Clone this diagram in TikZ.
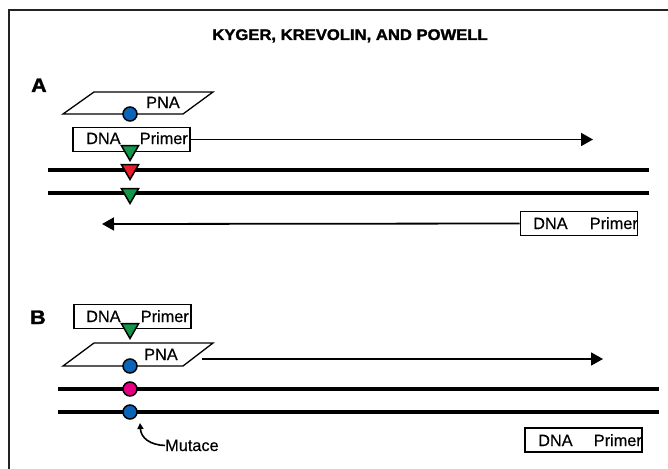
\documentclass[tikz,border=0pt]{standalone}
\usepackage{fontspec}
\setmainfont{Liberation Sans}[FakeBold=0.5]
\newfontfamily\headfont{Liberation Sans}[FakeBold=1.6]
\usetikzlibrary{arrows.meta,shapes.geometric}
\definecolor{mgreen}{RGB}{18,150,72}
\definecolor{mred}{RGB}{232,30,40}
\definecolor{mblue}{RGB}{10,100,184}
\definecolor{mpink}{RGB}{228,0,128}
\definecolor{inkgray}{RGB}{35,35,35}
\begin{document}
\begin{tikzpicture}[x=1pt,y=-1pt,
  frameline/.style={draw=inkgray,line width=2.2pt,line cap=rect},
  strand/.style={draw=black,line width=4.6pt},
  extend/.style={draw=black,line width=1.8pt,-{Triangle[length=12pt,width=13pt]}},
  primerbox/.style={draw=black,line width=1.7pt,fill=white,minimum width=117pt,minimum height=24pt,inner sep=0pt},
  pnabox/.style={draw=black,line width=1.3pt,fill=white},
  lbl/.style={font=\fontsize{16.3}{19}\selectfont,inner sep=0pt},
  panel/.style={font=\headfont\bfseries\fontsize{19.5}{22}\selectfont,inner sep=0pt},
  base/.style={draw=black,line width=1.5pt,circle,minimum size=14pt,inner sep=0pt},
  mism/.style={draw=black,line width=1.5pt,regular polygon,regular polygon sides=3,shape border rotate=180,minimum size=20pt,inner sep=0pt},
  mutarrow/.style={draw=black,line width=1.6pt,-{Triangle[length=6pt,width=6pt]}}
]
\useasboundingbox (0,0) rectangle (668,468);
\fill[white] (0,0) rectangle (668,468);

% open frame and running head
\draw[frameline] (9,468) -- (9,10) -- (668,10);
\node[inner sep=0pt,anchor=base] (head) at (350,40)
  {\scalebox{1.08}[1]{\headfont\bfseries\fontsize{15.4}{18}\selectfont KYGER, KREVOLIN, AND POWELL}};

% ---------- panel A ----------
\node[panel,anchor=base west] (labA) at (31,92) {\scalebox{1.1}[1]{A}};

% template strands
\coordinate (a1l) at (48,170);  \coordinate (a1r) at (649,170);
\coordinate (a2l) at (48,193);  \coordinate (a2r) at (649,193);
\draw[strand] (a1l) -- (a1r);
\draw[strand] (a2l) -- (a2r);

% PNA clamp
\coordinate (pa1) at (63,114); \coordinate (pa2) at (183,114);
\coordinate (pa3) at (213,92); \coordinate (pa4) at (94,92);
\draw[pnabox] (pa1) -- (pa2) -- (pa3) -- (pa4) -- cycle;
\node[lbl,anchor=base west] (pnaA) at (146,108) {PNA};
\node[base,fill=mblue] (cA) at (130,114) {};

% forward primer with extension
\node[primerbox] (fpA) at (131.5,139.5) {};
\node[lbl,anchor=base west] (fpAd) at (86,144) {DNA};
\node[lbl,anchor=base east] (fpAp) at (188,144) {Primer};
\coordinate (fendA) at (593,139.5);
\draw[extend] (fpA.east) -- (fendA);

% reverse primer with extension
\node[primerbox] (rpA) at (579,223.5) {};
\node[lbl,anchor=base west] (rpAd) at (533,229) {DNA};
\node[lbl,anchor=base east] (rpAp) at (638,229) {Primer};
\coordinate (rendA) at (102,224);
\draw[extend] (rpA.west) -- (rendA);

% mismatch markers
\node[mism,fill=mgreen] (tA1) at (130,150.5) {};
\node[mism,fill=mred]   (tA2) at (130,169.5) {};
\node[mism,fill=mgreen] (tA3) at (130,193.5) {};

% ---------- panel B ----------
\node[panel,anchor=base west] (labB) at (30,324) {\scalebox{1.1}[1]{B}};

\coordinate (b1l) at (58,389);  \coordinate (b1r) at (659,389);
\coordinate (b2l) at (58,412);  \coordinate (b2r) at (659,412);
\draw[strand] (b1l) -- (b1r);
\draw[strand] (b2l) -- (b2r);

% DNA primer above the clamp
\node[primerbox] (fpB) at (132.5,316.5) {};
\node[lbl,anchor=base west] (fpBd) at (86,322) {DNA};
\node[lbl,anchor=base east] (fpBp) at (189,322) {Primer};
\node[mism,fill=mgreen] (tB) at (130,328.5) {};

% PNA clamp with extension
\coordinate (pb1) at (63,366); \coordinate (pb2) at (183,366);
\coordinate (pb3) at (213,343); \coordinate (pb4) at (94,343);
\draw[pnabox] (pb1) -- (pb2) -- (pb3) -- (pb4) -- cycle;
\node[lbl,anchor=base west] (pnaB) at (144,360) {PNA};
\node[base,fill=mblue] (cB0) at (130,366) {};
\coordinate (bstart) at (202,359);
\coordinate (bend) at (603,359);
\draw[extend] (bstart) -- (bend);

% bases on the template
\node[base,fill=mpink] (cB1) at (130,389) {};
\node[base,fill=mblue] (cB2) at (130,412) {};

% mutation callout
\node[lbl,anchor=base west] (mut) at (165,451) {Mutace};
\coordinate (mtip) at (140,423);
\draw[mutarrow] (mut.west) .. controls (150,445) and (141,438) .. (mtip);

% reverse primer
\node[primerbox] (rpB) at (583.5,440) {};
\node[lbl,anchor=base west] (rpBd) at (538,446) {DNA};
\node[lbl,anchor=base east] (rpBp) at (642,446) {Primer};
\end{tikzpicture}
\end{document}
